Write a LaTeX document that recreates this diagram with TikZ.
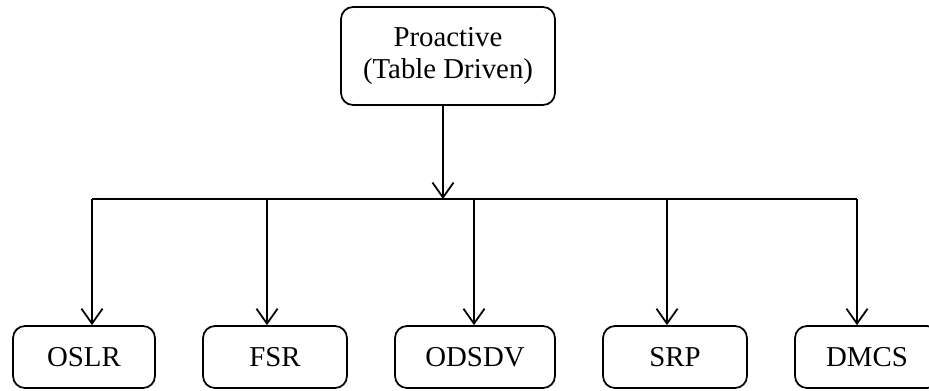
\documentclass[tikz,border=0pt]{standalone}
\usepackage{fontspec}
\setmainfont{Liberation Serif}
\usetikzlibrary{arrows.meta}

\begin{document}
\begin{tikzpicture}[x=0.02cm, y=-0.02cm,
    font=\fontsize{16.4}{18.5}\selectfont,
    box/.style={draw, line width=1pt, rounded corners=0.24cm, align=center, inner sep=0pt},
    leaf/.style={box, minimum width=2.88cm, minimum height=1.24cm},
    link/.style={line width=1pt, -{Straight Barb[length=8.5pt, width=12pt, line width=1pt]}}]
    \useasboundingbox (0,0) rectangle (929,390);
    \node[box, minimum width=4.28cm, minimum height=1.96cm] (pro) at (448,56) {Proactive\\(Table Driven)};
    \node[leaf, minimum width=2.84cm] (oslr) at (84,357) {OSLR};
    \node[leaf] (fsr) at (275,357) {FSR};
    \node[leaf, minimum width=3.2cm] (odsdv) at (475,357) {ODSDV};
    \node[leaf] (srp) at (675,357) {SRP};
    \node[leaf] (dmcs) at (867,357) {DMCS};
    \coordinate (hub) at (443,199);
    \coordinate (d1) at (92,199);
    \coordinate (d2) at (267,199);
    \coordinate (d3) at (474,199);
    \coordinate (d4) at (667,199);
    \coordinate (d5) at (857,199);
    \draw[link] (hub |- pro.south) -- (hub);
    \draw[line width=1pt] (d1) -- (d5);
    \foreach \d/\n in {d1/oslr, d2/fsr, d3/odsdv, d4/srp, d5/dmcs}
        \draw[link] (\d) -- (\d |- \n.north);
\end{tikzpicture}
\end{document}
